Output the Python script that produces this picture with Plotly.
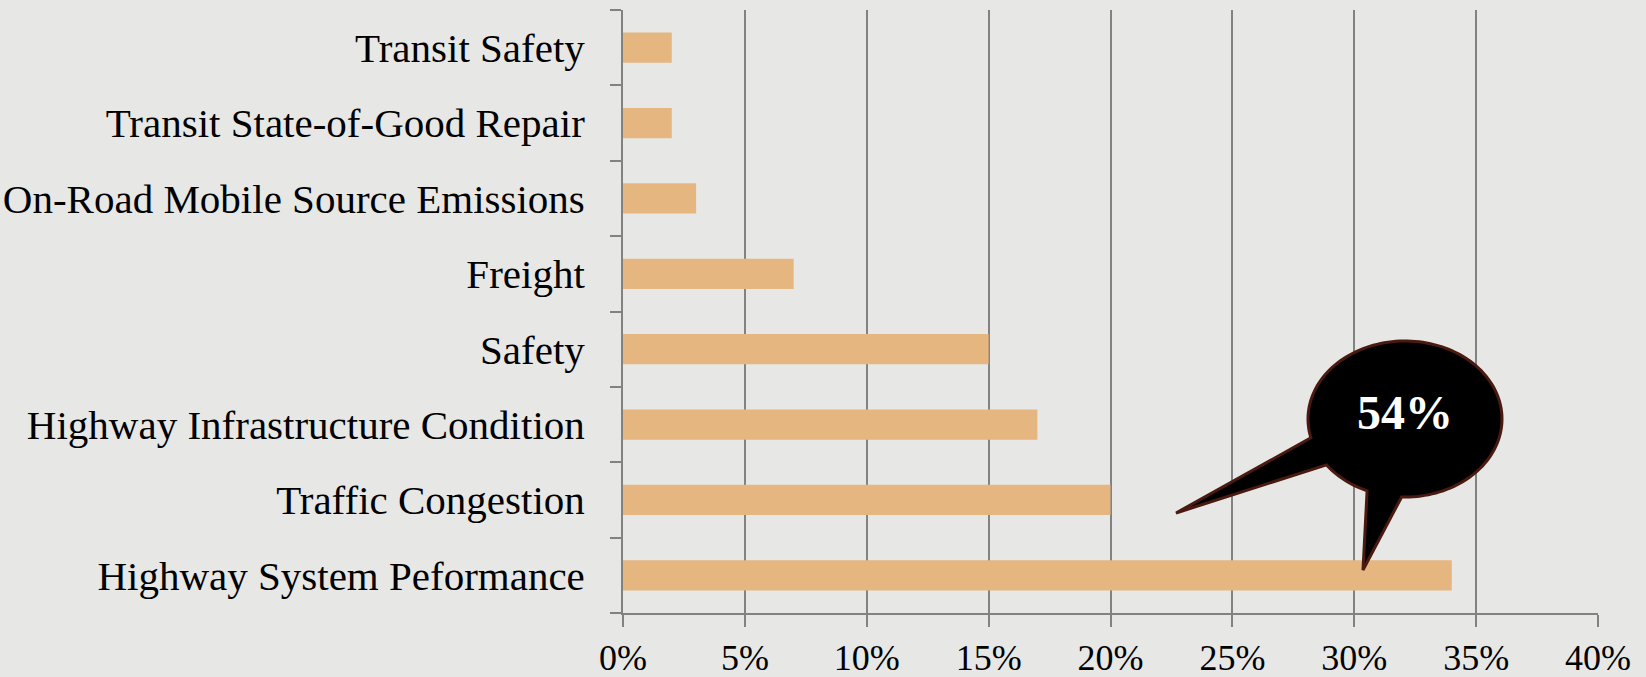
import numpy as np
import plotly.graph_objects as go

categories = ["Highway System Peformance", "Traffic Congestion", "Highway Infrastructure Condition",
              "Safety", "Freight", "On-Road Mobile Source Emissions",
              "Transit State-of-Good Repair", "Transit Safety"]
values = [34, 20, 17, 15, 7, 3, 2, 2]
x_tickvals = [0, 5, 10, 15, 20, 25, 30, 35, 40]
x_ticktext = ["0%", "5%", "10%", "15%", "20%", "25%", "30%", "35%", "40%"]
callout_text = "54%"

W, H = 1646, 677
L, R, T, B = 623, 48, 10, 64
pw, ph = W - L - R, H - T - B

fig = go.Figure(go.Bar(
    x=values, y=categories, orientation="h",
    marker=dict(color="#E6B680", line=dict(width=0)),
    hoverinfo="skip"))

grid = "#828282"
fig.update_layout(
    width=W, height=H,
    margin=dict(l=L, r=R, t=T, b=B, autoexpand=False),
    paper_bgcolor="#e7e7e6", plot_bgcolor="#e7e7e6",
    bargap=0.6, showlegend=False,
    font=dict(family="Liberation Serif", size=41, color="#000"),
)
fig.update_xaxes(range=[0, 40], tickvals=x_tickvals, ticktext=x_ticktext,
                 showgrid=True, gridcolor=grid, gridwidth=2,
                 showline=True, linecolor=grid, linewidth=2,
                 ticks="outside", ticklen=12, tickwidth=2, tickcolor=grid,
                 ticklabelstandoff=0, tickfont=dict(size=36),
                 automargin=False, zeroline=False, fixedrange=True)
fig.update_yaxes(categoryorder="array", categoryarray=categories,
                 tickson="boundaries", ticks="outside", ticklen=11, tickwidth=2, tickcolor=grid,
                 showline=True, linecolor=grid, linewidth=2, showgrid=False,
                 ticklabelstandoff=28, automargin=False, fixedrange=True)

# callout bubble (pixel geometry -> paper coords)
cx, cy, rx, ry = 1405, 419, 97, 78
def ell(a0, a1, n):
    out = []
    for a in np.linspace(np.radians(a0), np.radians(a1), n):
        out.append((cx + rx*np.cos(a), cy + ry*np.sin(a)))
    return out
pts = []
pts += ell(-180, 92, 120)
pts.append((1363, 570))
pts += ell(113, 144, 12)
pts.append((1176, 513))
pts += ell(166, 180, 6)
def tp(p):
    return ((p[0]-L)/pw, (H-B-p[1])/ph)
pp = [tp(p) for p in pts]
path = "M " + " L ".join(f"{x:.5f},{y:.5f}" for x, y in pp) + " Z"
fig.add_shape(type="path", path=path, xref="paper", yref="paper",
              fillcolor="#000000", line=dict(color="#4a1a10", width=3), layer="above")
tx, ty = tp((1405, 412))
fig.add_annotation(x=tx, y=ty, xref="paper", yref="paper", text="<b>" + callout_text + "</b>",
                   xanchor="center", yanchor="middle",
                   showarrow=False, font=dict(family="Liberation Serif", size=48, color="#ffffff"))

fig.write_html("out.html", config={"displayModeBar": False},
               post_script="document.body.style.margin='0';document.body.style.overflow='hidden';")
